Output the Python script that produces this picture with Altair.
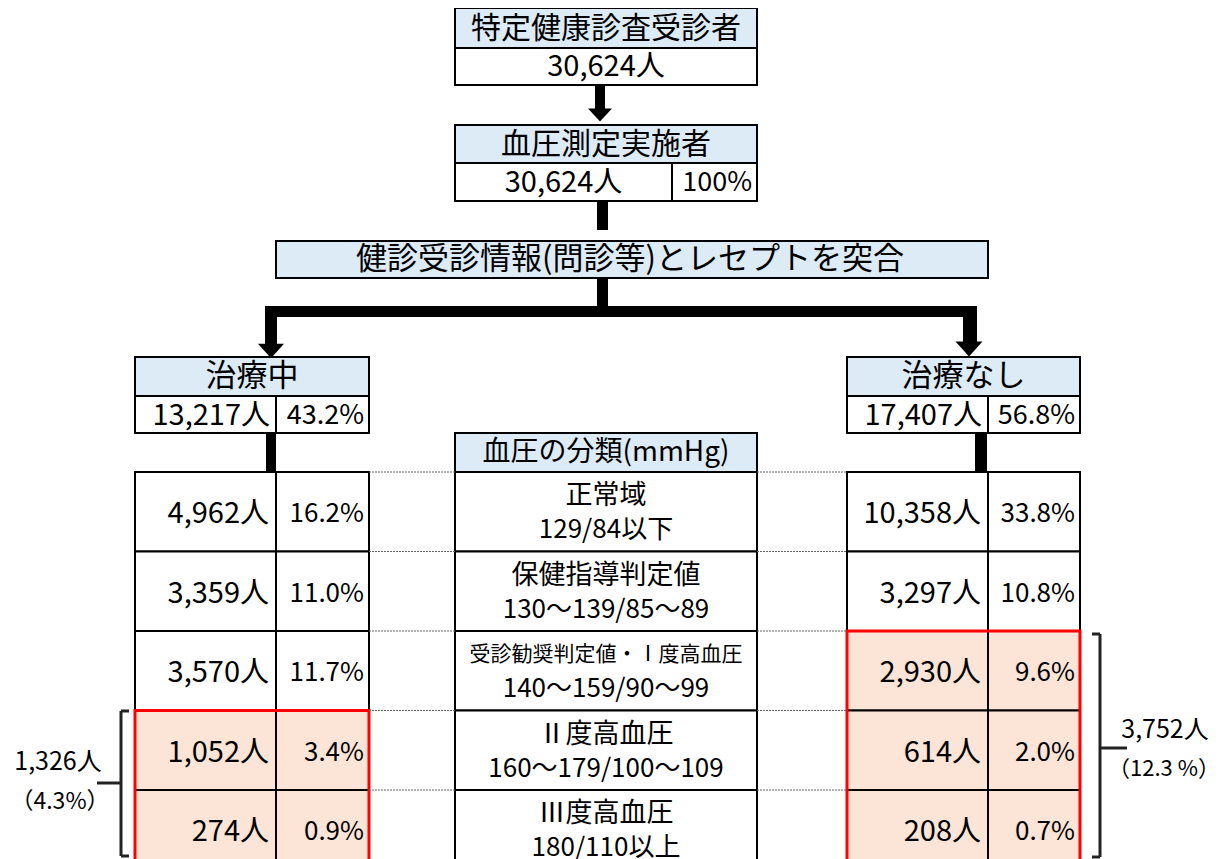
import altair as alt
import pandas as pd

# ---------------- data ----------------
top_title = "特定健康診査受診者"
top_total = 30624
measured_title = "血圧測定実施者"
measured_total = 30624
measured_pct = 100
match_label = "健診受診情報(問診等)とレセプトを突合"
center_header = "血圧の分類(mmHg)"

groups = ["治療中", "治療なし"]
group_counts = [13217, 17407]
group_pcts = [43.2, 56.8]

bp_classes = ["正常域", "保健指導判定値", "受診勧奨判定値・Ⅰ度高血圧", "Ⅱ度高血圧", "Ⅲ度高血圧"]
bp_ranges = ["129/84以下", "130～139/85～89", "140～159/90～99", "160～179/100～109", "180/110以上"]

treated_counts = [4962, 3359, 3570, 1052, 274]
treated_pcts = [16.2, 11.0, 11.7, 3.4, 0.9]
treated_flag = [False, False, False, True, True]

untreated_counts = [10358, 3297, 2930, 614, 208]
untreated_pcts = [33.8, 10.8, 9.6, 2.0, 0.7]
untreated_flag = [False, False, True, True, True]

# ---------------- layout / style ----------------
FONT = "Noto Sans CJK JP"
BLUE = "#DDEBF7"
PEACH = "#FCE4D6"
RED = "#FF0000"
W, H = 1212, 851
ROW0, ROW_H = 472, 79.5
COLS = [(135, 276, 369), (847, 988, 1080)]  # left, divider, right of each side table
CX0, CX1 = 455, 757
CMID = (CX0 + CX1) / 2

rects, texts_c, texts_r, rules, dots, heads = [], [], [], [], [], []


def box(x, x2, y, y2, fill="white", stroke="black", sw=2):
    rects.append(dict(x=x, x2=x2, y=y, y2=y2, fill=fill, stroke=stroke, sw=sw))


def tc(x, y, t, s):
    texts_c.append(dict(x=x, y=y, text=t, size=s))


def tr(x, y, t, s):
    texts_r.append(dict(x=x, y=y, text=t, size=s))


def fmt_n(n):
    return f"{n:,}人"


def fmt_p(p):
    return f"{p:.1f}%"


# top boxes
box(CX0, CX1, 8, 48, BLUE)
box(CX0, CX1, 48, 85)
tc(CMID, 29, top_title, 30)
tc(CMID, 67, fmt_n(top_total), 29)

box(CX0, CX1, 125, 163, BLUE)
box(CX0, 672, 163, 201)
box(672, CX1, 163, 201)
tc(CMID, 145, measured_title, 30)
tc((CX0 + 672) / 2, 183, fmt_n(measured_total), 29)
tr(752, 183, f"{measured_pct}%", 27)

box(276, 988, 241, 278, BLUE)
tc(630, 260, match_label, 31)

# connectors (black filled shafts)
for (x, x2, y, y2) in [(595, 605, 85, 110), (597, 608, 201, 230), (597, 608, 278, 307),
                       (265, 977, 306, 317), (265, 277, 306, 347), (963, 977, 306, 344),
                       (266, 276, 433, 472), (975, 987, 433, 472)]:
    box(x, x2, y, y2, "black", "black", 0)
heads += [dict(x=600, y=115, s=24 ** 2), dict(x=271, y=351, s=26 ** 2), dict(x=969, y=349, s=27 ** 2)]

# group boxes
for g, c, p, (L, M, R) in zip(groups, group_counts, group_pcts, COLS):
    box(L, R, 357, 396, BLUE)
    box(L, M, 396, 433)
    box(M, R, 396, 433)
    tc((L + R) / 2, 377, g, 31)
    tr(M - 6, 416, fmt_n(c), 29)
    tr(R - 5, 416, fmt_p(p), 27)

# center header
box(CX0, CX1, 433, 472, BLUE)
tc(CMID, 453, center_header, 28)

# table rows
sides = [(treated_counts, treated_pcts, treated_flag), (untreated_counts, untreated_pcts, untreated_flag)]
for i, (cls, rng) in enumerate(zip(bp_classes, bp_ranges)):
    y = ROW0 + i * ROW_H
    y2 = y + ROW_H if i < len(bp_classes) - 1 else y + ROW_H + 20
    box(CX0, CX1, y, y2)
    tc(CMID, y + 24, cls, 21 if len(cls) > 8 else 27)
    tc(CMID, y + 58, rng, 26)
    for (counts, pcts, flags), (L, M, R) in zip(sides, COLS):
        f = PEACH if flags[i] else "white"
        box(L, M, y, y2, f)
        box(M, R, y, y2, f)
        tr(M - 7, y + 42, fmt_n(counts[i]), 29)
        tr(R - 5, y + 42, fmt_p(pcts[i]), 26)
    # dotted guides
    dots.append(dict(x=369, x2=CX0, y=y, y2=y))
    dots.append(dict(x=CX1, x2=847, y=y, y2=y))

# red outlines around flagged rows
for (counts, pcts, flags), (L, M, R) in zip(sides, COLS):
    first = flags.index(True)
    box(L, R, ROW0 + first * ROW_H, ROW0 + len(flags) * ROW_H + 20, "transparent", RED, 3)

# brackets with totals
t_sum = sum(c for c, f in zip(treated_counts, treated_flag) if f)
t_pct = sum(p for p, f in zip(treated_pcts, treated_flag) if f)
u_sum = sum(c for c, f in zip(untreated_counts, untreated_flag) if f)
u_pct = sum(p for p, f in zip(untreated_pcts, untreated_flag) if f)

rules += [dict(x=121, x2=121, y=711, y2=856), dict(x=121, x2=129, y=711, y2=711),
          dict(x=121, x2=129, y=856, y2=856), dict(x=97, x2=121, y=783, y2=783)]
rules += [dict(x=1100, x2=1100, y=634, y2=857), dict(x=1092, x2=1100, y=634, y2=634),
          dict(x=1092, x2=1100, y=857, y2=857), dict(x=1100, x2=1127, y=748, y2=748)]
tc(58, 762, fmt_n(t_sum), 25)
tc(60, 802, f"（{t_pct:.1f}%）", 23)
tc(1165, 730, fmt_n(u_sum), 25)
tc(1164, 769, f"（{u_pct:.1f} %）", 22)

# ---------------- chart ----------------
xs = alt.Scale(domain=[8, 8 + W], nice=False, zero=False)
ys = alt.Scale(domain=[8 + H, 8], nice=False, zero=False)
X = alt.X("x:Q", scale=xs, axis=None)
Y = alt.Y("y:Q", scale=ys, axis=None)

rect_layer = alt.Chart(pd.DataFrame(rects)).mark_rect(clip=True).encode(
    x=X, x2="x2:Q", y=Y, y2="y2:Q",
    fill=alt.Fill("fill:N", scale=None),
    stroke=alt.Stroke("stroke:N", scale=None),
    strokeWidth=alt.StrokeWidth("sw:Q", scale=None),
)

dot_layer = alt.Chart(pd.DataFrame(dots)).mark_rule(
    color="#666666", strokeWidth=1, strokeDash=[2, 1]
).encode(x=X, x2="x2:Q", y=Y, y2="y2:Q")

rule_layer = alt.Chart(pd.DataFrame(rules)).mark_rule(
    color="#222222", strokeWidth=3
).encode(x=X, x2="x2:Q", y=Y, y2="y2:Q")

head_layer = alt.Chart(pd.DataFrame(heads)).mark_point(
    shape="M-1,-0.55L1,-0.55L0,0.55Z", filled=True, color="black", opacity=1, strokeWidth=0
).encode(x=X, y=Y, size=alt.Size("s:Q", scale=None))

text_c = alt.Chart(pd.DataFrame(texts_c)).mark_text(
    align="center", baseline="middle", font=FONT, color="black"
).encode(x=X, y=Y, text="text:N", size=alt.Size("size:Q", scale=None))

text_r = alt.Chart(pd.DataFrame(texts_r)).mark_text(
    align="right", baseline="middle", font=FONT, color="black"
).encode(x=X, y=Y, text="text:N", size=alt.Size("size:Q", scale=None))

chart = alt.layer(rect_layer, dot_layer, rule_layer, head_layer, text_c, text_r).properties(
    width=W, height=H, padding=0, autosize="none",
).configure_view(stroke=None)

chart.save("out.html", embed_options={"renderer": "svg", "actions": False})
